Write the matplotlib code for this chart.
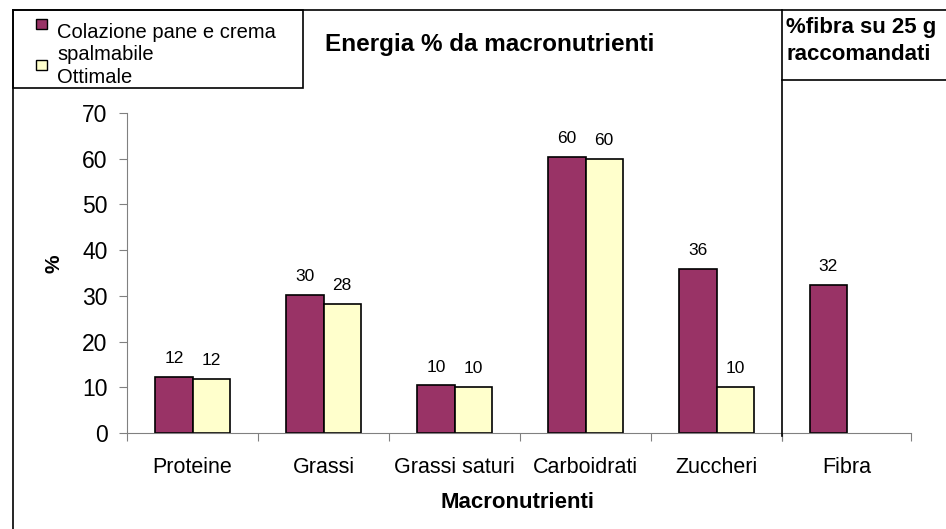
import numpy as np
import matplotlib.pyplot as plt
from matplotlib.lines import Line2D
from matplotlib.patches import Rectangle

plt.rcParams['font.family'] = ['Liberation Sans', 'DejaVu Sans']

categorie = ['Proteine', 'Grassi', 'Grassi saturi', 'Carboidrati', 'Zuccheri']
colazione = [12.3, 30.2, 10.4, 60.3, 35.9]
ottimale = [11.8, 28.2, 10.1, 59.9, 10.1]
fibra_cat = ['Fibra']
fibra = [32.4]

serie = ['Colazione pane e crema\nspalmabile', 'Ottimale']
col_maroon = '#993366'
col_giallo = '#FFFFCC'
grigio = '#808080'

W, H = 946, 529
fig = plt.figure(figsize=(W / 100, H / 100), dpi=100)


def fx(px):
    return px / W


def fy(py):
    return 1 - py / H


def box(x0, y0, x1, y1):
    return [fx(x0), fy(y1), fx(x1) - fx(x0), fy(y0) - fy(y1)]


bw = 0.283

# grafico principale
ax = fig.add_axes(box(127, 113, 782, 433))
x = np.arange(len(categorie)) + 0.5
b1 = ax.bar(x - bw / 2, colazione, bw, color=col_maroon, edgecolor='black', linewidth=1.2)
b2 = ax.bar(x + bw / 2, ottimale, bw, color=col_giallo, edgecolor='black', linewidth=1.2)
for bars in (b1, b2):
    for r in bars:
        ax.annotate(f"{r.get_height():.0f}", (r.get_x() + r.get_width() / 2, r.get_height()),
                    xytext=(0, 10), textcoords='offset points', ha='center', va='baseline',
                    fontsize=12.5)
ax.set_xlim(0, len(categorie))
ax.set_ylim(0, 70)
ax.set_yticks(range(0, 71, 10))
ax.set_xticks(range(0, len(categorie) + 1))
ax.set_xticklabels([])
ax.set_xticks(x, minor=True)
ax.set_xticklabels(categorie, minor=True, fontsize=15.5)
ax.tick_params(axis='x', which='minor', length=0, pad=17)
ax.tick_params(axis='x', which='major', length=6, color=grigio, direction='out')
ax.tick_params(axis='y', length=6, color=grigio, labelsize=16.5, pad=8)
for s in ['top', 'right']:
    ax.spines[s].set_visible(False)
for s in ['left', 'bottom']:
    ax.spines[s].set_color(grigio)
ax.set_ylabel('%', fontsize=15, fontweight='bold')
ax.yaxis.set_label_coords((64 - 127) / 655, (433 - 264) / 320)

# grafico fibra
ax2 = fig.add_axes(box(782, 113, 911, 433))
x2 = np.arange(len(fibra_cat)) + 0.5
b3 = ax2.bar(x2 - bw / 2, fibra, bw, color=col_maroon, edgecolor='black', linewidth=1.2)
for r in b3:
    ax2.annotate(f"{r.get_height():.0f}", (r.get_x() + r.get_width() / 2, r.get_height()),
                 xytext=(0, 10), textcoords='offset points', ha='center', va='baseline',
                 fontsize=12.5)
ax2.set_xlim(0, 1)
ax2.set_ylim(0, 70)
ax2.set_yticks([])
ax2.set_xticks([0, 1])
ax2.set_xticklabels([])
ax2.set_xticks(x2, minor=True)
ax2.set_xticklabels(fibra_cat, minor=True, fontsize=15.5)
ax2.tick_params(axis='x', which='minor', length=0, pad=17)
ax2.tick_params(axis='x', which='major', length=6, color=grigio, direction='out')
for s in ['top', 'right', 'left']:
    ax2.spines[s].set_visible(False)
ax2.spines['bottom'].set_color(grigio)
ax2.patch.set_alpha(0)

# cornici
fig.add_artist(Line2D([fx(13), fx(946)], [fy(9.5), fy(9.5)], color='black', lw=1.2))
fig.add_artist(Line2D([fx(13), fx(13)], [fy(9.5), fy(529)], color='black', lw=1.2))
fig.add_artist(Line2D([fx(782), fx(782)], [fy(9.5), fy(436)], color='black', lw=1.2))
fig.add_artist(Line2D([fx(782), fx(946)], [fy(80), fy(80)], color='black', lw=1.2))

# legenda
fig.add_artist(Rectangle((fx(13), fy(88)), fx(303) - fx(13), fy(10) - fy(88),
                         transform=fig.transFigure, fill=False, edgecolor='black', lw=1.2))
fig.add_artist(Rectangle((fx(36), fy(29)), fx(11), fy(0) - fy(10), transform=fig.transFigure,
                         facecolor=col_maroon, edgecolor='black', lw=1))
fig.add_artist(Rectangle((fx(36), fy(70)), fx(11), fy(0) - fy(10), transform=fig.transFigure,
                         facecolor=col_giallo, edgecolor='black', lw=1))
righe = serie[0].split('\n') + [serie[1]]
for testo, yb in zip(righe, [38, 60, 83]):
    fig.text(fx(57), fy(yb), testo, fontsize=14.5, va='baseline', ha='left')

# titoli
fig.text(fx(490), fy(45), 'Energia % da macronutrienti', fontsize=17.5, fontweight='bold',
         ha='center', va='center')
fig.text(fx(786), fy(27), '%fibra su 25 g', fontsize=16, fontweight='bold', ha='left', va='center')
fig.text(fx(786), fy(54), 'raccomandati', fontsize=16, fontweight='bold', ha='left', va='center')
fig.text(fx(518), fy(503), 'Macronutrienti', fontsize=16, fontweight='bold', ha='center', va='center')

fig.savefig('out.png', dpi=100)
